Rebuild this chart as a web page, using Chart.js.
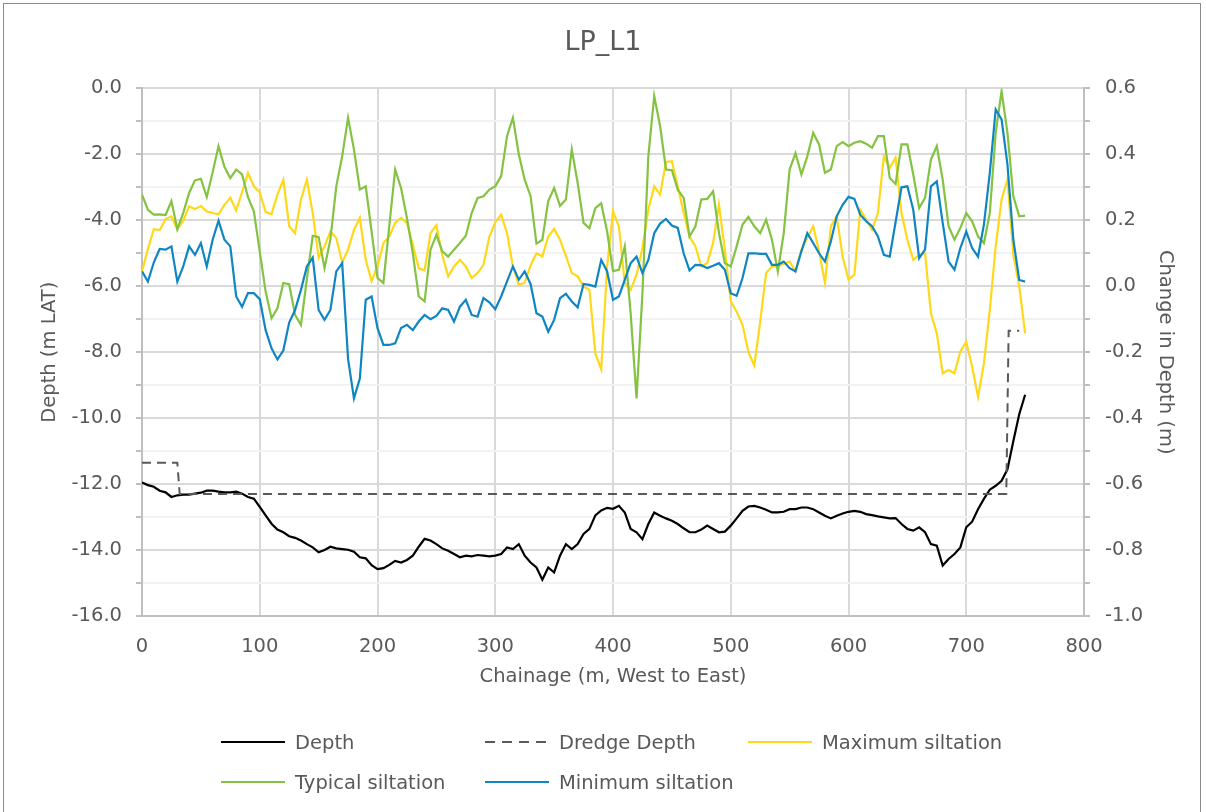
<!DOCTYPE html>
<html>
<head>
<meta charset="utf-8">
<script src="https://cdn.jsdelivr.net/npm/chart.js@4.4.1/dist/chart.umd.min.js"></script>
<style>
  html, body { margin: 0; padding: 0; background: #fff; }
  #wrap { position: relative; width: 1206px; height: 812px; overflow: hidden; }
  #frame { position: absolute; left: 3px; top: 3px; width: 1198px; height: 830px; border: 1.5px solid #8c8c8c; box-sizing: border-box; }
  #chart { position: absolute; left: 0; top: 0; }
  .legend-item { position: absolute; display: flex; align-items: center; font-family: 'DejaVu Sans', sans-serif; font-size: 19.5px; color: #595959; white-space: nowrap; }
  .legend-line { width: 64px; height: 2.5px; margin-right: 10px; }
</style>
</head>
<body>
<div id="wrap">
  <div id="frame"></div>
  <canvas id="chart" width="1206" height="812"></canvas>
  <div id="legend"></div>
</div>
<script>
/////////////////////
//    Data         //
/////////////////////
const chainage = [
  0, 5, 10, 15, 20, 25, 30, 35, 40, 45,
  50, 55, 60, 65, 70, 75, 80, 85, 90, 95,
  100, 105, 110, 115, 120, 125, 130, 135, 140, 145,
  150, 155, 160, 165, 170, 175, 180, 185, 190, 195,
  200, 205, 210, 215, 220, 225, 230, 235, 240, 245,
  250, 255, 260, 265, 270, 275, 280, 285, 290, 295,
  300, 305, 310, 315, 320, 325, 330, 335, 340, 345,
  350, 355, 360, 365, 370, 375, 380, 385, 390, 395,
  400, 405, 410, 415, 420, 425, 430, 435, 440, 445,
  450, 455, 460, 465, 470, 475, 480, 485, 490, 495,
  500, 505, 510, 515, 520, 525, 530, 535, 540, 545,
  550, 555, 560, 565, 570, 575, 580, 585, 590, 595,
  600, 605, 610, 615, 620, 625, 630, 635, 640, 645,
  650, 655, 660, 665, 670, 675, 680, 685, 690, 695,
  700, 705, 710, 715, 720, 725, 730, 735, 740, 745,
  750
];

// Depth (m LAT), left axis
const depth = [
  -11.95, -12.03, -12.08, -12.2, -12.25, -12.39, -12.34, -12.32, -12.32, -12.29,
  -12.26, -12.2, -12.2, -12.23, -12.25, -12.25, -12.23, -12.29, -12.39, -12.44,
  -12.69, -12.95, -13.2, -13.38, -13.46, -13.58, -13.63, -13.71, -13.82, -13.92,
  -14.07, -14.0, -13.9, -13.95, -13.97, -13.99, -14.05, -14.22, -14.25, -14.46,
  -14.58, -14.55, -14.45, -14.33, -14.38, -14.3, -14.17, -13.9, -13.66, -13.71,
  -13.82, -13.95, -14.02, -14.12, -14.22, -14.17, -14.19, -14.15, -14.17, -14.19,
  -14.17, -14.12, -13.92, -13.97, -13.82, -14.17, -14.38, -14.53, -14.9, -14.53,
  -14.68, -14.17, -13.82, -13.97, -13.82, -13.51, -13.36, -12.95, -12.8, -12.72,
  -12.75, -12.66, -12.86, -13.36, -13.46, -13.67, -13.21, -12.86, -12.96, -13.04,
  -13.11, -13.21, -13.34, -13.46, -13.46, -13.38, -13.26, -13.36, -13.46, -13.44,
  -13.26, -13.04, -12.81, -12.68, -12.66, -12.71, -12.78, -12.86, -12.86, -12.84,
  -12.76, -12.76, -12.71, -12.71, -12.76, -12.86, -12.96, -13.04, -12.96, -12.89,
  -12.84, -12.81, -12.84, -12.91, -12.94, -12.98, -13.01, -13.04, -13.03, -13.21,
  -13.36, -13.41, -13.31, -13.46, -13.82, -13.87, -14.47, -14.27, -14.12, -13.92,
  -13.31, -13.14, -12.76, -12.45, -12.17, -12.05, -11.9, -11.55, -10.69, -9.88,
  -9.29
];

// Dredge depth (m LAT), left axis
const dredgeChainage = [0, 30, 32, 734, 736, 745];
const dredgeDepth = [-11.35, -11.35, -12.3, -12.3, -7.35, -7.35];

// Change in depth (m), right axis
const maxSiltation = [
  0.045, 0.113, 0.173, 0.170, 0.204, 0.212, 0.172, 0.199, 0.242, 0.234,
  0.243, 0.227, 0.222, 0.218, 0.247, 0.268, 0.230, 0.285, 0.344, 0.303,
  0.285, 0.225, 0.219, 0.278, 0.323, 0.182, 0.161, 0.263, 0.323, 0.222,
  0.087, 0.121, 0.166, 0.146, 0.072, 0.111, 0.171, 0.207, 0.080, 0.016,
  0.060, 0.131, 0.151, 0.192, 0.207, 0.192, 0.126, 0.055, 0.048, 0.161,
  0.185, 0.095, 0.030, 0.060, 0.080, 0.060, 0.025, 0.040, 0.065, 0.151,
  0.194, 0.217, 0.161, 0.060, 0.005, 0.010, 0.063, 0.100, 0.090, 0.151,
  0.174, 0.141, 0.092, 0.040, 0.030, -0.001, -0.011, -0.203, -0.252, 0.060,
  0.227, 0.182, 0.010, -0.011, 0.035, 0.116, 0.232, 0.303, 0.278, 0.377,
  0.379, 0.303, 0.222, 0.151, 0.121, 0.060, 0.070, 0.131, 0.247, 0.111,
  -0.046, -0.077, -0.117, -0.200, -0.240, -0.107, 0.040, 0.060, 0.060, 0.068,
  0.075, 0.045, 0.111, 0.146, 0.182, 0.106, 0.010, 0.182, 0.212, 0.090,
  0.020, 0.035, 0.232, 0.202, 0.171, 0.222, 0.394, 0.359, 0.390, 0.222,
  0.141, 0.080, 0.095, 0.100, -0.082, -0.143, -0.264, -0.254, -0.264, -0.198,
  -0.169, -0.244, -0.335, -0.234, -0.072, 0.121, 0.263, 0.323, 0.095, 0.0,
  -0.143
];

const typicalSiltation = [
  0.278, 0.232, 0.217, 0.218, 0.216, 0.258, 0.173, 0.222, 0.283, 0.321,
  0.326, 0.271, 0.346, 0.425, 0.362, 0.328, 0.354, 0.339, 0.270, 0.227,
  0.105, -0.016, -0.097, -0.067, 0.010, 0.006, -0.087, -0.117, 0.022, 0.153,
  0.149, 0.055, 0.142, 0.303, 0.394, 0.511, 0.415, 0.293, 0.303, 0.166,
  0.025, 0.010, 0.182, 0.354, 0.298, 0.207, 0.100, -0.031, -0.046, 0.111,
  0.156, 0.106, 0.090, 0.111, 0.131, 0.153, 0.222, 0.268, 0.273, 0.293,
  0.303, 0.334, 0.455, 0.511, 0.400, 0.323, 0.273, 0.129, 0.141, 0.258,
  0.298, 0.244, 0.263, 0.415, 0.313, 0.192, 0.176, 0.237, 0.252, 0.166,
  0.046, 0.050, 0.121, -0.082, -0.340, -0.021, 0.394, 0.577, 0.486, 0.354,
  0.352, 0.293, 0.268, 0.151, 0.182, 0.263, 0.265, 0.288, 0.161, 0.070,
  0.060, 0.121, 0.187, 0.210, 0.182, 0.161, 0.202, 0.141, 0.045, 0.161,
  0.354, 0.404, 0.339, 0.394, 0.465, 0.430, 0.344, 0.354, 0.425, 0.437,
  0.425, 0.435, 0.440, 0.432, 0.420, 0.455, 0.455, 0.328, 0.310, 0.430,
  0.430, 0.339, 0.237, 0.268, 0.384, 0.425, 0.323, 0.182, 0.141, 0.177,
  0.222, 0.197, 0.151, 0.131, 0.222, 0.465, 0.592, 0.465, 0.273, 0.212,
  0.214
];

const minSiltation = [
  0.045, 0.014, 0.072, 0.113, 0.111, 0.121, 0.014, 0.060, 0.121, 0.095,
  0.131, 0.060, 0.141, 0.199, 0.141, 0.121, -0.031, -0.062, -0.021, -0.021,
  -0.039, -0.133, -0.188, -0.222, -0.195, -0.110, -0.072, -0.011, 0.060, 0.087,
  -0.072, -0.102, -0.072, 0.045, 0.070, -0.220, -0.340, -0.280, -0.041, -0.031,
  -0.127, -0.178, -0.178, -0.173, -0.127, -0.117, -0.133, -0.107, -0.087, -0.100,
  -0.090, -0.067, -0.072, -0.107, -0.062, -0.041, -0.087, -0.092, -0.036, -0.049,
  -0.070, -0.031, 0.015, 0.060, 0.020, 0.045, 0.007, -0.082, -0.092, -0.138,
  -0.102, -0.036, -0.023, -0.046, -0.064, 0.007, 0.004, -0.001, 0.080, 0.045,
  -0.041, -0.031, 0.019, 0.070, 0.090, 0.040, 0.080, 0.161, 0.190, 0.204,
  0.184, 0.177, 0.100, 0.048, 0.065, 0.064, 0.055, 0.062, 0.070, 0.050,
  -0.021, -0.029, 0.025, 0.100, 0.100, 0.098, 0.098, 0.065, 0.065, 0.075,
  0.055, 0.045, 0.106, 0.161, 0.131, 0.100, 0.075, 0.136, 0.212, 0.247,
  0.271, 0.265, 0.217, 0.197, 0.182, 0.151, 0.095, 0.090, 0.195, 0.300,
  0.303, 0.232, 0.085, 0.111, 0.303, 0.318, 0.192, 0.075, 0.050, 0.116,
  0.166, 0.116, 0.090, 0.187, 0.344, 0.536, 0.506, 0.369, 0.141, 0.019,
  0.014
];


/////////////////////
//    Constants    //
/////////////////////
const FONT = "'DejaVu Sans', sans-serif";
const FONT_SIZE = 19.5;
const TEXT_COLOR = '#595959';
const GRID_MAJOR = '#d9d9d9';
const GRID_MINOR = '#f2f2f2';
const AXIS_COLOR = '#bfbfbf';
const DASH = [9, 6];


////////////////////////////
//    Helper Functions    //
////////////////////////////
function toPoints(xs, ys) {
  return xs.map((x, i) => ({ x: x, y: ys[i] }));
}

function buildLegend(chart) {
  // Grid of three columns, left aligned like the original
  const cols = [221, 485, 748];
  const rows = [742, 782];
  const legend = document.getElementById('legend');
  chart.data.datasets.forEach((ds, i) => {
    const item = document.createElement('div');
    item.className = 'legend-item';
    item.style.left = cols[i % 3] + 'px';
    item.style.top = (rows[Math.floor(i / 3)] - 12) + 'px';
    item.style.height = '24px';

    const line = document.createElement('div');
    line.className = 'legend-line';
    if (ds.borderDash && ds.borderDash.length) {
      line.style.background = `repeating-linear-gradient(90deg, ${ds.borderColor} 0 10px, transparent 10px 17px)`;
    } else {
      line.style.background = ds.borderColor;
    }
    item.appendChild(line);

    const label = document.createElement('span');
    label.textContent = ds.label;
    item.appendChild(label);
    legend.appendChild(item);
  });
}


///////////////////////
//    Main Script    //
///////////////////////
const data = {
  datasets: [
    {
      label: 'Depth',
      data: toPoints(chainage, depth),
      borderColor: '#000000',
      borderWidth: 2.2,
      yAxisID: 'y',
      order: 5
    },
    {
      label: 'Dredge Depth',
      data: toPoints(dredgeChainage, dredgeDepth),
      borderColor: '#595959',
      borderWidth: 2,
      borderDash: DASH,
      yAxisID: 'y',
      order: 4
    },
    {
      label: 'Maximum siltation',
      data: toPoints(chainage, maxSiltation),
      borderColor: '#ffd81a',
      borderWidth: 2.2,
      yAxisID: 'y1',
      order: 3
    },
    {
      label: 'Typical siltation',
      data: toPoints(chainage, typicalSiltation),
      borderColor: '#84c341',
      borderWidth: 2.2,
      yAxisID: 'y1',
      order: 2
    },
    {
      label: 'Minimum siltation',
      data: toPoints(chainage, minSiltation),
      borderColor: '#0f86c3',
      borderWidth: 2.2,
      yAxisID: 'y1',
      order: 1
    }
  ]
};

const config = {
  type: 'line',
  data,
  options: {
    responsive: false,
    animation: false,
    devicePixelRatio: 1,
    layout: {
      padding: { left: 0, right: 0, top: 0, bottom: 112 }
    },
    elements: {
      point: { radius: 0 },
      line: { tension: 0, fill: false }
    },
    scales: {
      x: {
        type: 'linear',
        min: 0,
        max: 800,
        ticks: {
          stepSize: 100,
          padding: 19,
          color: TEXT_COLOR,
          font: { family: FONT, size: FONT_SIZE },
          callback: (v) => String(v)
        },
        grid: {
          color: GRID_MAJOR,
          lineWidth: 2,
          drawTicks: false
        },
        border: { color: AXIS_COLOR, width: 2 },
        title: {
          display: true,
          text: 'Chainage (m, West to East)',
          color: TEXT_COLOR,
          font: { family: FONT, size: FONT_SIZE },
          padding: { top: 0, bottom: 11 }
        },
        afterFit: (scale) => { scale.height = 84; }
      },
      y: {
        position: 'left',
        min: -16,
        max: 0,
        ticks: {
          stepSize: 1,
          padding: 14,
          color: TEXT_COLOR,
          font: { family: FONT, size: FONT_SIZE },
          callback: (v) => (v % 2 === 0 ? v.toFixed(1) : '')
        },
        grid: {
          color: (ctx) => (ctx.tick && ctx.tick.value % 2 === 0 ? GRID_MAJOR : GRID_MINOR),
          lineWidth: 2,
          tickLength: 6,
          tickColor: AXIS_COLOR
        },
        border: { color: AXIS_COLOR, width: 2 },
        title: {
          display: true,
          text: 'Depth (m LAT)',
          color: TEXT_COLOR,
          font: { family: FONT, size: FONT_SIZE },
          padding: { top: 38, bottom: 0 }
        },
        afterFit: (scale) => { scale.width = 142; }
      },
      y1: {
        position: 'right',
        min: -1.0,
        max: 0.6,
        ticks: {
          stepSize: 0.1,
          padding: 15,
          color: TEXT_COLOR,
          font: { family: FONT, size: FONT_SIZE },
          callback: (v) => {
            const k = Math.round(v * 10);
            return k % 2 === 0 ? (k / 10).toFixed(1) : '';
          }
        },
        grid: {
          drawOnChartArea: false,
          lineWidth: 2,
          tickLength: 6,
          tickColor: AXIS_COLOR
        },
        border: { color: AXIS_COLOR, width: 2 },
        title: {
          display: true,
          text: 'Change in Depth (m)',
          color: TEXT_COLOR,
          font: { family: FONT, size: FONT_SIZE },
          padding: { top: 29, bottom: 0 }
        },
        afterFit: (scale) => { scale.width = 122; }
      }
    },
    plugins: {
      legend: { display: false },
      tooltip: { enabled: false },
      title: {
        display: true,
        text: 'LP_L1',
        color: TEXT_COLOR,
        font: { family: FONT, size: 27, weight: 'normal' },
        padding: { top: 27, bottom: 29 }
      }
    }
  }
};

const chart = new Chart(document.getElementById('chart'), config);
buildLegend(chart);
</script>
</body>
</html>
